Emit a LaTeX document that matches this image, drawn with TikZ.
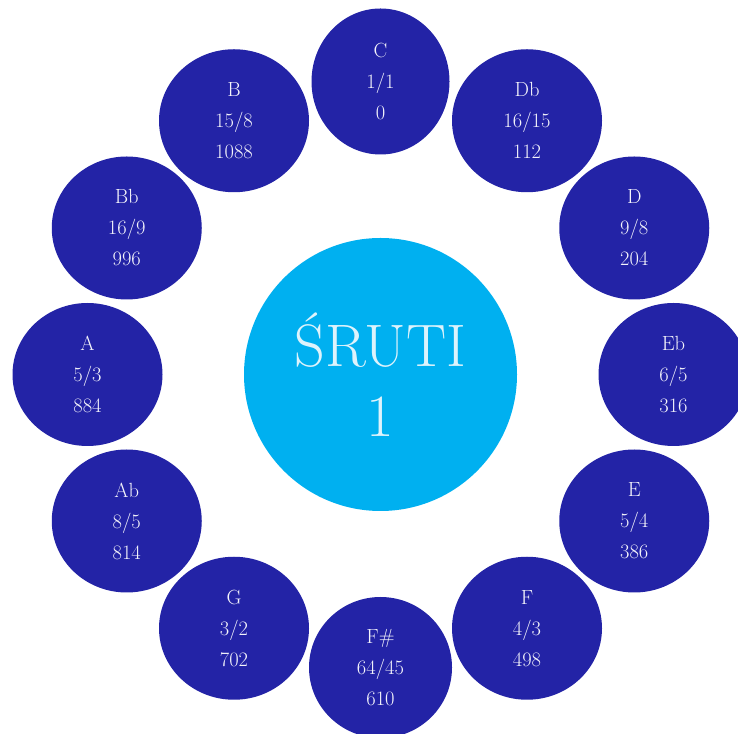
\documentclass[tikz,border=0pt]{standalone}
\usepackage{fontspec}
\usepackage{xcolor}
\usepackage{tikz}
\usetikzlibrary{shapes.geometric}

\definecolor{noteblue}{HTML}{2323A6}
\definecolor{srutiblue}{HTML}{00B0F0}
\definecolor{srutitext}{HTML}{DDF3FC}
\definecolor{notetext}{HTML}{F4F4FB}

\begin{document}
\begin{tikzpicture}[
    x=1pt, y=1pt,
    note_ball/.style={ellipse, fill=noteblue, text=notetext, inner sep=0pt,
      align=center, font=\fontsize{20.5}{31}\selectfont},
    sruti_ball/.style={circle, fill=srutiblue, text=srutitext, inner sep=0pt,
      minimum size=273pt, align=center, font=\fontsize{60}{70}\selectfont}
  ]

  % 1. Ramen för bilden
  \useasboundingbox (0,0) rectangle (738,733);
  \coordinate (O) at (380.5,358.5);

  % 2. Mittcirkeln
  \node[sruti_ball] (sruti) at (O) {ŚRUTI\\1};

  % 3. De tolv tonerna runt mitten
  \foreach \i/\nm/\p/\q/\cent/\w/\h in {
      0/C/1/1/0/138/146, 1/Db/16/15/112/150/143, 2/D/9/8/204/150/143,
      3/Eb/6/5/316/150/143, 4/E/5/4/386/150/143, 5/F/4/3/498/150/143,
      6/F\#/64/45/610/143/141, 7/G/3/2/702/150/143, 8/Ab/8/5/814/150/143,
      9/A/5/3/884/150/143, 10/Bb/16/9/996/150/143, 11/B/15/8/1088/150/143} {
    \node[note_ball, minimum width=\w pt, minimum height=\h pt]
      (note\i) at ([shift={(90-30*\i:293)}]O) {\nm\\\p/\q\\\cent};
  }

\end{tikzpicture}
\end{document}
